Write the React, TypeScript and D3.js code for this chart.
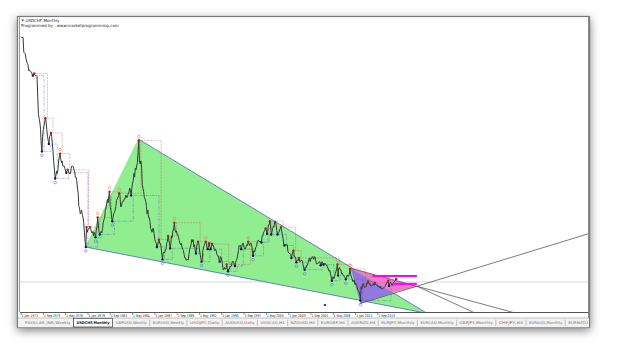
import React from "react";
import * as d3 from "d3";

// USDCHF monthly closes, Jan 1971 onwards
const closes1971to1980 = [
  4.31, 4.30, 4.30, 4.30, 4.10, 4.09, 4.08, 4.02, 3.98, 3.95, 3.93, 3.85,
  3.86, 3.84, 3.83, 3.83, 3.80, 3.78, 3.80, 3.81, 3.79, 3.78, 3.78, 3.77,
  3.50, 3.25, 3.20, 3.15, 3.05, 2.85, 2.75, 2.95, 3.05, 3.10, 3.15, 3.20,
  3.15, 3.05, 2.95, 2.90, 2.85, 2.95, 2.97, 3.00, 2.95, 2.85, 2.75, 2.60,
  2.50, 2.38, 2.42, 2.48, 2.45, 2.50, 2.62, 2.68, 2.72, 2.65, 2.60, 2.62,
  2.55, 2.55, 2.55, 2.52, 2.48, 2.46, 2.48, 2.50, 2.48, 2.45, 2.45, 2.45,
  2.52, 2.55, 2.55, 2.54, 2.50, 2.47, 2.40, 2.40, 2.35, 2.25, 2.18, 2.00,
  1.98, 1.90, 1.92, 1.95, 1.88, 1.85, 1.78, 1.65, 1.52, 1.45, 1.72, 1.65,
  1.68, 1.70, 1.70, 1.72, 1.70, 1.65, 1.64, 1.66, 1.60, 1.65, 1.62, 1.58,
  1.68, 1.72, 1.85, 1.75, 1.65, 1.62, 1.65, 1.66, 1.64, 1.70, 1.78, 1.82,
];
const closes1981to1990 = [
  1.85, 1.95, 1.98, 2.05, 2.10, 2.05, 2.15, 2.20, 2.00, 1.95, 1.85, 1.80,
  1.85, 1.90, 1.92, 1.95, 2.00, 2.08, 2.10, 2.12, 2.15, 2.18, 2.15, 2.00,
  2.00, 2.05, 2.07, 2.07, 2.10, 2.10, 2.15, 2.15, 2.12, 2.15, 2.18, 2.20,
  2.25, 2.22, 2.15, 2.25, 2.32, 2.35, 2.45, 2.40, 2.52, 2.50, 2.55, 2.60,
  2.75, 2.90, 2.60, 2.58, 2.62, 2.55, 2.30, 2.25, 2.20, 2.12, 2.10, 2.07,
  2.00, 1.90, 1.95, 1.85, 1.85, 1.80, 1.70, 1.68, 1.65, 1.70, 1.70, 1.63,
  1.55, 1.52, 1.50, 1.45, 1.48, 1.52, 1.55, 1.50, 1.50, 1.45, 1.35, 1.28,
  1.37, 1.38, 1.37, 1.40, 1.42, 1.50, 1.52, 1.60, 1.55, 1.50, 1.43, 1.50,
  1.60, 1.58, 1.68, 1.68, 1.78, 1.68, 1.65, 1.67, 1.62, 1.62, 1.58, 1.54,
  1.50, 1.48, 1.50, 1.45, 1.42, 1.40, 1.35, 1.30, 1.30, 1.27, 1.27, 1.28,
];
const closes1991to2000 = [
  1.27, 1.35, 1.42, 1.45, 1.48, 1.55, 1.52, 1.55, 1.45, 1.48, 1.40, 1.36,
  1.45, 1.50, 1.52, 1.50, 1.42, 1.35, 1.30, 1.25, 1.28, 1.40, 1.45, 1.47,
  1.50, 1.52, 1.50, 1.43, 1.42, 1.47, 1.50, 1.45, 1.42, 1.45, 1.49, 1.47,
  1.47, 1.43, 1.40, 1.42, 1.40, 1.35, 1.33, 1.33, 1.28, 1.25, 1.32, 1.31,
  1.27, 1.22, 1.14, 1.14, 1.17, 1.15, 1.15, 1.21, 1.16, 1.12, 1.15, 1.15,
  1.19, 1.18, 1.19, 1.25, 1.25, 1.25, 1.20, 1.19, 1.24, 1.27, 1.29, 1.34,
  1.40, 1.47, 1.46, 1.47, 1.42, 1.46, 1.50, 1.50, 1.45, 1.42, 1.42, 1.46,
  1.48, 1.47, 1.52, 1.50, 1.47, 1.50, 1.50, 1.48, 1.38, 1.33, 1.40, 1.38,
  1.41, 1.45, 1.46, 1.52, 1.54, 1.54, 1.52, 1.52, 1.53, 1.51, 1.60, 1.60,
  1.65, 1.66, 1.68, 1.70, 1.68, 1.63, 1.66, 1.75, 1.75, 1.80, 1.75, 1.62,
];
const closes2001to2010 = [
  1.65, 1.70, 1.73, 1.72, 1.80, 1.80, 1.75, 1.67, 1.62, 1.64, 1.65, 1.68,
  1.70, 1.72, 1.66, 1.62, 1.56, 1.49, 1.47, 1.48, 1.48, 1.48, 1.48, 1.39,
  1.37, 1.36, 1.36, 1.35, 1.30, 1.35, 1.38, 1.40, 1.32, 1.32, 1.30, 1.24,
  1.27, 1.27, 1.27, 1.30, 1.25, 1.25, 1.27, 1.27, 1.25, 1.19, 1.15, 1.14,
  1.18, 1.17, 1.20, 1.20, 1.24, 1.28, 1.30, 1.25, 1.30, 1.29, 1.32, 1.31,
  1.28, 1.32, 1.31, 1.26, 1.22, 1.22, 1.23, 1.23, 1.25, 1.25, 1.20, 1.22,
  1.25, 1.23, 1.21, 1.22, 1.23, 1.22, 1.20, 1.20, 1.16, 1.16, 1.12, 1.13,
  1.09, 1.04, 0.99, 1.04, 1.04, 1.02, 1.05, 1.09, 1.12, 1.16, 1.21, 1.06,
  1.16, 1.17, 1.14, 1.14, 1.08, 1.09, 1.07, 1.06, 1.04, 1.03, 1.01, 1.04,
  1.06, 1.07, 1.05, 1.08, 1.15, 1.08, 1.04, 1.02, 0.98, 0.98, 1.00, 0.94,
];
const closes2011to2016 = [
  0.96, 0.93, 0.92, 0.87, 0.86, 0.84, 0.81, 0.72, 0.91, 0.88, 0.92, 0.94,
  0.92, 0.90, 0.90, 0.91, 0.96, 0.95, 0.98, 0.96, 0.94, 0.94, 0.92, 0.92,
  0.93, 0.93, 0.95, 0.93, 0.96, 0.94, 0.93, 0.93, 0.91, 0.91, 0.91, 0.89,
  0.91, 0.88, 0.88, 0.88, 0.89, 0.90, 0.91, 0.92, 0.96, 0.96, 0.97, 0.99,
  0.92, 0.95, 0.97, 0.96, 0.93, 0.93, 0.96, 0.97, 0.98, 0.99, 1.03, 1.00,
  1.02,
];
const closes = [
  ...closes1971to1980,
  ...closes1981to1990,
  ...closes1991to2000,
  ...closes2001to2010,
  ...closes2011to2016,
];

const dateLabels = [
  "1 Jan 1971", "1 Sep 1973", "1 May 1976", "1 Jan 1979", "1 Sep 1981",
  "1 May 1984", "1 Jan 1987", "1 Sep 1989", "1 May 1992", "1 Jan 1995",
  "1 Sep 1997", "1 May 2000", "1 Jan 2003", "1 Sep 2005", "1 May 2008",
  "1 Jan 2011", "1 Sep 2013",
];
const monthsPerLabel = 32;

const tabLabels = [
  "FDOLLAR_INR,Weekly", "USDCHF,Monthly", "GBPUSD,Weekly", "EURUSD,Weekly",
  "USDJPY,Daily", "AUDUSD,Daily", "USDCAD,H4", "NZDUSD,H4", "EURGBP,H4",
  "AUDNZD,H4", "EURJPY,Monthly", "EURCAD,Monthly", "GBPJPY,Monthly",
  "CHFJPY,H4", "EURAUD,Monthly", "EURNZD,Daily",
];
const activeTab = "USDCHF,Monthly";

// pattern objects: [month index, price]
const greenTriangle: [number, number][] = [[92, 1.45], [168, 2.92], [583, 0.545]];
const purpleTriangle: [number, number][] = [[473, 1.16], [487, 0.68], [534, 0.825]];
const pinkTriangle: [number, number][] = [[473, 1.16], [568, 0.915], [534, 0.825]];
const magentaLevels = [
  { from: 504, to: 568, price: 1.055 },
  { from: 534, to: 568, price: 0.947 },
];
const trendLines: [number, number][][] = [
  [[487, 0.68], [568, 0.915]],
  [[473, 1.16], [568, 0.915]],
  [[568, 0.915], [648, 0.565]],
];
const referencePrice = 0.974;
const blueMarker: [number, number] = [436, 0.66];

function charW(c: string) {
  if (/[A-Z0-9]/.test(c)) return 3.0;
  if (c === "," || c === ".") return 1.2;
  if (c === "_") return 2.2;
  return 2.0;
}

function fractals(arr: number[], k: number) {
  const highs: number[] = [];
  const lows: number[] = [];
  for (let i = k; i < arr.length - k; i++) {
    let h = true, l = true;
    for (let j = i - k; j <= i + k; j++) {
      if (j === i) continue;
      if (arr[j] >= arr[i]) h = false;
      if (arr[j] <= arr[i]) l = false;
    }
    if (h) highs.push(i);
    if (l) lows.push(i);
  }
  return { highs, lows };
}

function stepSeries(idx: number[], k: number, n: number) {
  const pts: [number, number][] = [];
  let level: number | null = null;
  let p = 0;
  for (let i = 0; i < n; i++) {
    while (p < idx.length && idx[p] + k <= i) {
      level = closes[idx[p]];
      p++;
    }
    if (level !== null) pts.push([i, level]);
  }
  return pts;
}

export default function App() {
  const plotL = 20, plotR = 588, plotT = 18, plotB = 312;
  const x = d3.scaleLinear().domain([0, 813.5]).range([21, 588]);
  const y = d3.scaleLinear().domain([0.5, 4.6]).range([316.75, 15.4]);

  const n = closes.length;
  const priceLine = d3.line<number>().x((_, i) => x(i)).y((d) => y(d));
  const poly = (pts: [number, number][]) =>
    pts.map((p) => `${x(p[0])},${y(p[1])}`).join(" ");

  const K = 3;
  const fr = fractals(closes, K);
  const big = fractals(closes, 9);
  const step = d3
    .line<[number, number]>()
    .x((d) => x(d[0]))
    .y((d) => y(d[1]))
    .curve(d3.curveStepAfter);
  const upperStep = stepSeries(fr.highs, K, n);
  const lowerStep = stepSeries(fr.lows, K, n);

  const extend = (seg: [number, number][]) => {
    const [a, b] = seg;
    const slope = (b[1] - a[1]) / (b[0] - a[0]);
    const end = 813.5;
    return [a, [end, a[1] + slope * (end - a[0])]] as [number, number][];
  };

  // tabs
  let tx = 22;
  const tabs = tabLabels.map((t) => {
    const w = t.split("").reduce((s, c) => s + charW(c), 0) + 5;
    const r = { t, x0: tx, w };
    tx += w;
    return r;
  });

  const font = "'DejaVu Sans', Verdana, sans-serif";

  return (
    <svg
      width={625}
      height={347}
      style={{ position: "absolute", left: 0, top: 0, background: "#fff" }}
    >
      <defs>
        <filter id="shadow" x="-10%" y="-10%" width="120%" height="125%">
          <feDropShadow dx="0" dy="3" stdDeviation="5" floodColor="#000" floodOpacity="0.5" />
        </filter>
        <clipPath id="plot">
          <rect x={plotL} y={plotT} width={plotR - plotL} height={plotB - plotT} />
        </clipPath>
        <clipPath id="tabclip">
          <rect x={18} y={317} width={570} height={11} />
        </clipPath>
      </defs>

      {/* window */}
      <rect x={17} y={16} width={573} height={311.5} fill="#fff" filter="url(#shadow)" />
      <rect x={17.5} y={16.5} width={572} height={311} fill="#fff" stroke="#7a7a7a" strokeWidth={1.2} />
      <line x1={19.5} y1={17} x2={19.5} y2={312} stroke="#9a9a9a" strokeWidth={1} />
      <line x1={588.5} y1={17} x2={588.5} y2={318} stroke="#8a8a8a" strokeWidth={1} />

      <g clipPath="url(#plot)">
        {/* reference level */}
        <line x1={plotL} x2={plotR} y1={y(referencePrice)} y2={y(referencePrice)} stroke="#cfcfcf" strokeWidth={0.8} />

        {/* green triangle */}
        <polygon points={poly(greenTriangle)} fill="#90ee90" />
        <line x1={x(greenTriangle[1][0])} y1={y(greenTriangle[1][1])} x2={x(greenTriangle[2][0])} y2={y(greenTriangle[2][1])} stroke="#4a64c8" strokeWidth={0.8} />
        <line x1={x(greenTriangle[0][0])} y1={y(greenTriangle[0][1])} x2={x(greenTriangle[2][0])} y2={y(greenTriangle[2][1])} stroke="#4a64c8" strokeWidth={0.8} />

        {/* purple & pink triangles */}
        <polygon points={poly(purpleTriangle)} fill="#9278e0" />
        <polygon points={poly(pinkTriangle)} fill="#f07cc8" />

        {/* trend lines */}
        {trendLines.map((seg, i) => {
          const e = extend(seg);
          return (
            <line key={i} x1={x(e[0][0])} y1={y(e[0][1])} x2={x(e[1][0])} y2={y(e[1][1])} stroke="#444" strokeWidth={0.7} />
          );
        })}

        {/* fractal step lines */}
        <path d={step(upperStep) || ""} fill="none" stroke="#d85050" strokeOpacity={0.75} strokeWidth={0.55} strokeDasharray="2,1" />
        <path d={step(lowerStep) || ""} fill="none" stroke="#4858d0" strokeOpacity={0.75} strokeWidth={0.55} strokeDasharray="3,1,1,1" />

        {/* price */}
        <path d={priceLine(closes) || ""} fill="none" stroke="#343a34" strokeWidth={1} />

        {/* fractal dots */}
        {fr.highs.map((i) => (
          <circle key={"h" + i} cx={x(i)} cy={y(closes[i])} r={1.2} fill="#c81818" />
        ))}
        {fr.lows.map((i) => (
          <circle key={"l" + i} cx={x(i)} cy={y(closes[i])} r={1.2} fill="#14146e" />
        ))}
        {big.highs.map((i) => (
          <circle key={"bh" + i} cx={x(i)} cy={y(closes[i]) - 4} r={1.3} fill="none" stroke="#d08a5a" strokeWidth={0.6} />
        ))}
        {big.lows.map((i) => (
          <circle key={"bl" + i} cx={x(i)} cy={y(closes[i]) + 4} r={1.3} fill="none" stroke="#6070d0" strokeWidth={0.6} />
        ))}

        {/* magenta levels */}
        {magentaLevels.map((m, i) => (
          <line key={i} x1={x(m.from)} x2={x(m.to)} y1={y(m.price)} y2={y(m.price)} stroke="#ff00ff" strokeWidth={2} />
        ))}

        <rect x={x(blueMarker[0]) - 1} y={y(blueMarker[1]) - 1} width={2} height={2} fill="#1030e0" />
      </g>

      {/* title */}
      <path d="M21.5,19.5 L24,19.5 L22.75,21.5 Z" fill="#333" />
      <text x={25.5} y={21.6} fontSize={4} fontFamily={font} fill="#222">USDCHF,Monthly</text>
      <text x={21} y={26.5} fontSize={4} fontFamily={font} fill="#222">Programmed by : www.marketprogramming.com</text>

      {/* date axis */}
      <line x1={plotL} x2={plotR} y1={plotB + 0.5} y2={plotB + 0.5} stroke="#555" strokeWidth={1} />
      {dateLabels.map((d, i) => {
        const px = x(i * monthsPerLabel);
        return (
          <g key={d}>
            <line x1={px} x2={px} y1={plotB + 1} y2={plotB + 3} stroke="#555" strokeWidth={0.6} />
            <text x={px + 0.6} y={316.6} fontSize={3.6} fontFamily={font} fill="#222" textLength={16.5} lengthAdjust="spacingAndGlyphs">{d}</text>
          </g>
        );
      })}

      {/* tab bar */}
      <rect x={18} y={318} width={571} height={9.3} fill="#f2f2f2" />
      <line x1={18} x2={589} y1={318} y2={318} stroke="#9a9a9a" strokeWidth={0.6} />
      <g clipPath="url(#tabclip)">
        {tabs.map((tb) => {
          const active = tb.t === activeTab;
          return (
            <g key={tb.t}>
              {active ? (
                <rect x={tb.x0} y={318.3} width={tb.w} height={8.7} fill="#fff" stroke="#333" strokeWidth={0.7} />
              ) : (
                <line x1={tb.x0 + tb.w} x2={tb.x0 + tb.w} y1={319.5} y2={326} stroke="#a0a0a0" strokeWidth={0.6} />
              )}
              {tb.x0 < 586 && (
                <text
                  x={tb.x0 + 3}
                  y={324.2}
                  fontSize={3.8}
                  fontFamily={font}
                  fill={active ? "#111" : "#777"}
                  fontWeight={active ? "bold" : "normal"}
                  textLength={tb.w - 6}
                  lengthAdjust="spacingAndGlyphs"
                >
                  {tb.t}
                </text>
              )}
            </g>
          );
        })}
      </g>
    </svg>
  );
}
